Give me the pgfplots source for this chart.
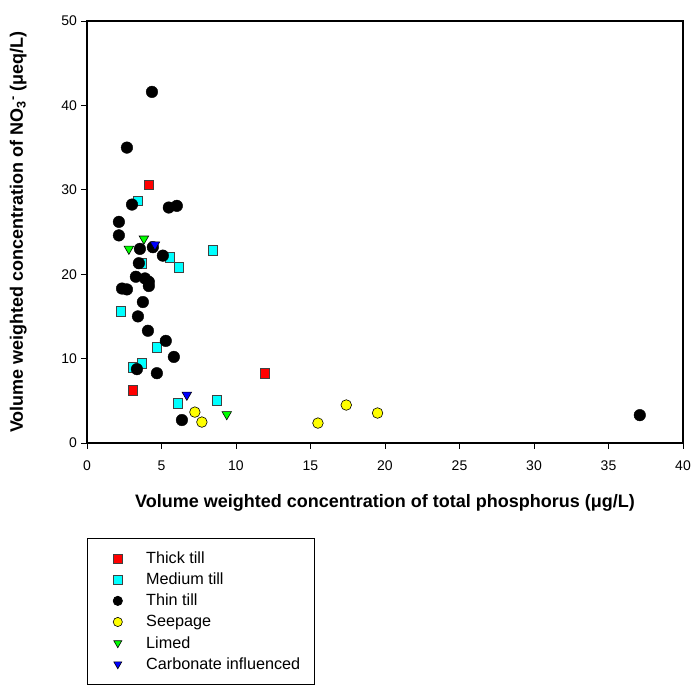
\documentclass[border=0pt]{standalone}
\usepackage{pgfplots}
\pgfplotsset{compat=1.18}
\usepackage{fontspec}
\setmainfont{Liberation Sans}
\definecolor{cRed}{RGB}{255,0,0}
\definecolor{cCyan}{RGB}{0,255,255}
\definecolor{cYellow}{RGB}{255,255,0}
\definecolor{cGreen}{RGB}{0,255,0}
\definecolor{cBlue}{RGB}{0,0,255}
\begin{document}
\begin{tikzpicture}[x=1pt,y=1pt]
\path[use as bounding box] (-87,-244) rectangle (606,443);
\begin{axis}[
  at={(0,0)}, anchor=south west,
  scale only axis, width=596pt, height=422pt,
  xmin=0, xmax=40, ymin=0, ymax=50,
  xtick={0,5,...,40}, ytick={0,10,...,50},
  tick align=outside, xtick pos=bottom, ytick pos=left,
  major tick length=5.5pt,
  tick style={line width=0.8pt, black},
  axis line style={line width=2.2pt},
  /pgf/number format/assume math mode=true,
  tick label style={font=\fontsize{14}{16}\selectfont},
  xticklabel style={yshift=-9pt},
  yticklabel style={xshift=-1pt},
  xlabel={\textbf{Volume weighted concentration of total phosphorus (μg/L)}},
  ylabel={\textbf{Volume weighted concentration of NO\textsubscript{3}\textsuperscript{-} (μeq/L)}},
  label style={font=\fontsize{18}{22}\selectfont},
  xlabel style={at={(axis description cs:0.5,-0.152)}, anchor=base},
  ylabel style={at={(axis description cs:-0.1155,0.5)}, anchor=center},
  legend style={at={(0,-0.2246)}, anchor=north west, draw=black, line width=0.8pt,
    font=\fontsize{16.2}{19}\selectfont, inner xsep=14pt, inner ysep=12.5pt,
    row sep=5.1pt, column sep=0pt,
    nodes={inner sep=0pt, text height=13pt, text depth=3pt},
    cells={anchor=west}},
  legend image code/.code={
    \path (-16pt,-6pt) (28pt,6pt);
    \draw[#1, mark size=4.6pt] plot coordinates {(0pt,0pt)};
  },
]
\addplot[only marks, mark=square*, mark size=4.8pt, mark options={fill=cRed, draw=black!75, line width=0.6pt}]
coordinates {(4.15,30.6) (3.08,6.26) (11.93,8.27)};
\addlegendentry{Thick till}
\addplot[only marks, mark=square*, mark size=4.8pt, mark options={fill=cCyan, draw=black!75, line width=0.6pt}]
coordinates {(3.42,28.7) (8.44,22.8) (5.56,22.0) (6.16,20.8) (3.69,21.3) (2.28,15.6) (4.69,11.35) (3.69,9.46) (3.08,8.98) (6.10,4.73) (8.71,5.08)};
\addlegendentry{Medium till}
\addplot[only marks, mark=*, mark size=5.8pt, mark options={fill=black, draw=black}]
coordinates {(4.36,41.6) (2.68,35.0) (3.02,28.25) (5.49,27.9) (6.03,28.1) (2.14,26.2) (2.14,24.6) (3.55,23.0) (4.42,23.2) (5.09,22.2) (3.48,21.3) (3.28,19.7) (3.89,19.5) (4.15,19.1) (4.15,18.6) (2.35,18.3) (2.68,18.2) (3.75,16.7) (3.42,15.0) (4.09,13.3) (5.29,12.1) (5.83,10.2) (3.35,8.75) (4.69,8.27) (6.37,2.72) (37.1,3.3)};
\addlegendentry{Thin till}
\addplot[only marks, mark=*, mark size=5.3pt, mark options={fill=cYellow, draw=black, line width=0.6pt}]
coordinates {(7.24,3.66) (7.71,2.48) (15.5,2.36) (17.4,4.5) (19.5,3.55)};
\addlegendentry{Seepage}
\addplot[only marks, mark=triangle*, mark size=5.5pt, mark options={rotate=180, fill=cGreen, draw=black, line width=0.6pt}]
coordinates {(3.82,24.2) (2.81,23.0) (9.38,3.4)};
\addlegendentry{Limed}
\addplot[only marks, mark=triangle*, mark size=5.5pt, mark options={rotate=180, fill=cBlue, draw=black, line width=0.6pt}]
coordinates {(4.56,23.5) (6.7,5.7)};
\addlegendentry{Carbonate influenced}
\end{axis}
\end{tikzpicture}
\end{document}
